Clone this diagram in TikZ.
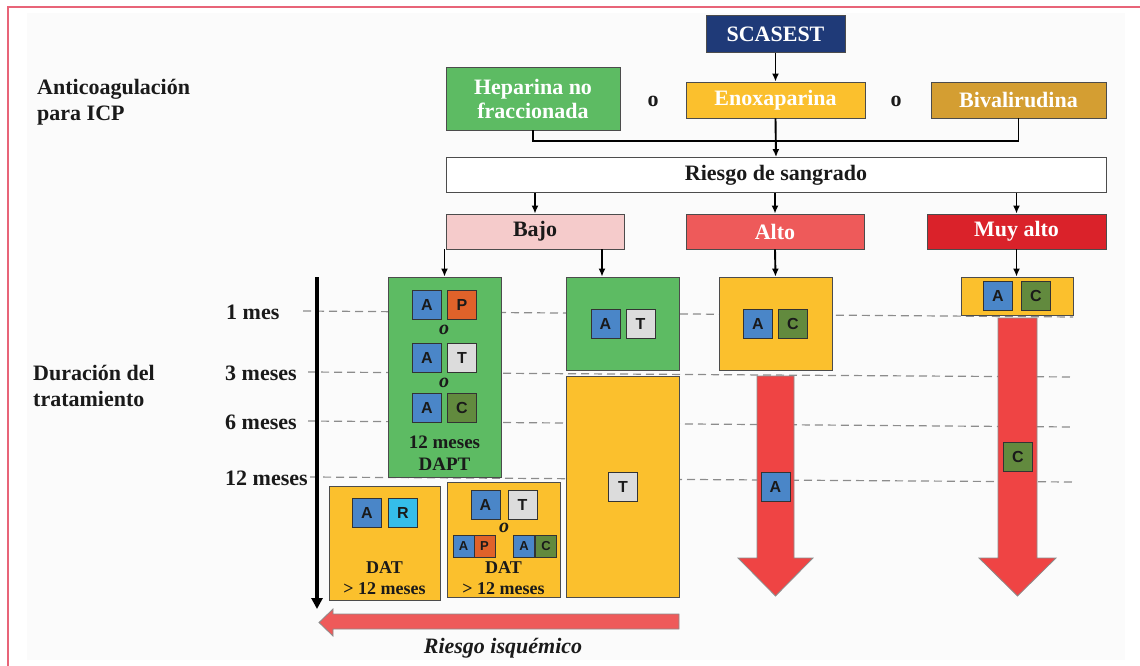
\documentclass[tikz,border=0pt]{standalone}
\usepackage{fontspec}
\setmainfont{Liberation Serif}
\newfontfamily\sqfont{Liberation Sans}
\usetikzlibrary{arrows.meta}
\definecolor{navy}{HTML}{1F3A78}
\definecolor{gbox}{HTML}{5DBB63}
\definecolor{ybox}{HTML}{FBC02D}
\definecolor{gold}{HTML}{D49E32}
\definecolor{pinkb}{HTML}{F5CBCB}
\definecolor{altoc}{HTML}{EE5A5A}
\definecolor{muyc}{HTML}{DA222A}
\definecolor{sqA}{HTML}{4A86C8}
\definecolor{sqP}{HTML}{E0622A}
\definecolor{sqT}{HTML}{DCDCDC}
\definecolor{sqC}{HTML}{628A3E}
\definecolor{sqR}{HTML}{35BDEA}
\definecolor{redarr}{HTML}{EF4444}
\definecolor{frame}{HTML}{E86478}
\definecolor{bgc}{HTML}{FBFBFB}
\definecolor{txt}{HTML}{1A1A1A}
\begin{document}
\begin{tikzpicture}[x=1pt,y=-1pt,
  box/.style={draw=black!70, line width=0.8pt, inner sep=0pt, align=center,
    font=\bfseries\fontsize{22}{24}\selectfont},
  sq/.style={draw=black!80, line width=0.8pt, minimum size=29pt, inner sep=0pt,
    text=txt, font=\sqfont\bfseries\fontsize{16}{16}\selectfont},
  ssq/.style={draw=black!80, line width=0.8pt, minimum width=21pt, minimum height=22pt,
    inner sep=0pt, text=txt, font=\sqfont\bfseries\fontsize{13}{13}\selectfont},
  conn/.style={line width=1.9pt, -{Latex[length=8pt,width=7pt]}},
  dline/.style={draw=black!45, dash pattern=on 8pt off 5pt, line width=1.2pt},
  lbl/.style={font=\bfseries\fontsize{22}{26}\selectfont, align=left, inner sep=0pt, text=txt},
  sep/.style={font=\bfseries\fontsize{22}{24}\selectfont, inner sep=0pt, text=txt},
  ior/.style={font=\bfseries\itshape\fontsize{20}{20}\selectfont, inner sep=0pt, text=txt},
  small/.style={font=\bfseries\fontsize{19}{22}\selectfont, inner sep=0pt, text=txt, align=center},
  redshape/.style={fill=redarr, draw=black!45, line width=0.8pt},
]
\useasboundingbox (0,0) rectangle (1140,666);
\fill[white] (0,0) rectangle (1140,666);
\fill[bgc] (27,13) rectangle (1125,660);
\draw[frame, line width=1.2pt] (8,666) -- (8,7) -- (1140,7);

% left labels
\node[lbl, anchor=north west] (anti) at (37,79) {Anticoagulación\\para ICP};
\node[lbl, anchor=north west] (dur) at (33,365) {Duración del\\tratamiento};

% top flow
\node[box, fill=navy, text=white, minimum width=139pt, minimum height=37pt] (scasest) at (775.5,34) {SCASEST};
\node[box, fill=gbox, text=white, minimum width=174pt, minimum height=63pt] (hep) at (533,98.5) {Heparina no\\fraccionada};
\node[box, fill=ybox, text=white, minimum width=179pt, minimum height=36pt] (enox) at (775.5,100) {Enoxaparina};
\node[box, fill=gold, text=white, minimum width=175pt, minimum height=36pt] (biva) at (1018.5,100) {Bivalirudina};
\node[sep] (o1) at (653,101) {o};
\node[sep] (o2) at (896,101) {o};
\node[box, fill=white, text=txt, minimum width=660pt, minimum height=35pt] (riesgo) at (776,175) {Riesgo de sangrado};
\node[box, fill=pinkb, text=txt, minimum width=178pt, minimum height=35pt] (bajo) at (535,231.5) {Bajo};
\node[box, fill=altoc, text=white, minimum width=178pt, minimum height=35pt] (alto) at (775,231.5) {Alto};
\node[box, fill=muyc, text=white, minimum width=179pt, minimum height=35pt] (muy) at (1016.5,231.5) {Muy alto};

\draw[conn] (scasest.south) -- (enox.north);
\coordinate (join) at (776,141);
\draw[line width=1.9pt] (hep.south) |- (join) -| (biva.south);
\draw[conn] (enox.south) -- (riesgo.north);
\draw[conn] (riesgo.south -| bajo.north) -- (bajo.north);
\draw[conn] (riesgo.south -| alto.north) -- (alto.north);
\draw[conn] (riesgo.south -| muy.north) -- (muy.north);

% dashed time lines
\coordinate (d1a) at (303,311); \coordinate (d1b) at (1073,317);
\coordinate (d3a) at (308,372); \coordinate (d3b) at (1073,377);
\coordinate (d6a) at (308,421); \coordinate (d6b) at (1073,427);
\coordinate (d12a) at (310,477); \coordinate (d12b) at (1073,482);
\draw[dline] (d1a) -- (d1b);
\draw[dline] (d3a) -- (d3b);
\draw[dline] (d6a) -- (d6b);
\draw[dline] (d12a) -- (d12b);

% time axis
\coordinate (axtop) at (317,277);
\coordinate (axend) at (317,609);
\draw[line width=3.5pt, -{Triangle[length=11pt,width=11pt]}] (axtop) -- (axend);
\node[lbl, anchor=west] (m1) at (226,312) {1 mes};
\node[lbl, anchor=west] (m3) at (225,373) {3 meses};
\node[lbl, anchor=west] (m6) at (225,422) {6 meses};
\node[lbl, anchor=west] (m12) at (225,478) {12 meses};

% Bajo column boxes
\node[box, fill=gbox, minimum width=113pt, minimum height=200pt] (dapt) at (444.5,377) {};
\node[box, fill=gbox, minimum width=113pt, minimum height=93pt] (atbox) at (622.5,323.5) {};
\node[box, fill=ybox, minimum width=113pt, minimum height=221pt] (tbox) at (622.5,486.5) {};
\node[box, fill=ybox, minimum width=111pt, minimum height=114pt] (dat1) at (384.5,543) {};
\node[box, fill=ybox, minimum width=113pt, minimum height=115pt] (dat2) at (503.5,539.5) {};

\draw[conn] (bajo.south -| dapt.north) -- (dapt.north);
\coordinate (bj2) at (602,249);
\draw[conn] (bj2) -- (bj2 |- atbox.north);

% DAPT contents
\node[sq, fill=sqA] (d1A) at (427,304.5) {A};
\node[sq, fill=sqP] (d1P) at (462,304.5) {P};
\node[ior] (do1) at (444,330) {o};
\node[sq, fill=sqA] (d2A) at (427,358) {A};
\node[sq, fill=sqT] (d2T) at (462,358) {T};
\node[ior] (do2) at (444,383) {o};
\node[sq, fill=sqA] (d3A) at (427,408) {A};
\node[sq, fill=sqC] (d3C) at (462,408) {C};
\node[small] (dm) at (444.5,442) {12 meses};
\node[small] (dd) at (444.5,464) {DAPT};

% A T box
\node[sq, fill=sqA] (aA) at (605.5,323.5) {A};
\node[sq, fill=sqT] (aT) at (640.5,323.5) {T};
% T box
\node[sq, fill=sqT] (tT) at (623,487) {T};

% DAT 1
\node[sq, fill=sqA] (e1A) at (367,512.5) {A};
\node[sq, fill=sqR] (e1R) at (403,512.5) {R};
\node[small, font=\bfseries\fontsize{18}{22}\selectfont] (e1t) at (384.5,568) {DAT};
\node[small, font=\bfseries\fontsize{18}{22}\selectfont] (e1m) at (384.5,589) {> 12 meses};

% DAT 2
\node[sq, fill=sqA] (f1A) at (485.5,505) {A};
\node[sq, fill=sqT] (f1T) at (522.5,505) {T};
\node[ior] (fo) at (504,528) {o};
\node[ssq, fill=sqA] (f2A) at (463.5,546) {A};
\node[ssq, fill=sqP] (f2P) at (484.5,546) {P};
\node[ssq, fill=sqA] (f3A) at (524,546) {A};
\node[ssq, fill=sqC] (f3C) at (546,546) {C};
\node[small, font=\bfseries\fontsize{18}{22}\selectfont] (f2t) at (503.5,568) {DAT};
\node[small, font=\bfseries\fontsize{18}{22}\selectfont] (f2m) at (503.5,589) {> 12 meses};

% Alto column
\node[box, fill=ybox, minimum width=113pt, minimum height=93pt] (altobox) at (775.5,323.5) {};
\draw[conn] (alto.south) -- (altobox.north);
\node[sq, fill=sqA] (gA) at (758,323.5) {A};
\node[sq, fill=sqC] (gC) at (793,323.5) {C};
\draw[redshape] (757,376) -- (794,376) -- (794,558) -- (813,558) -- (775.5,596) -- (738,558) -- (757,558) -- cycle;
\node[sq, fill=sqA] (hA) at (775.5,486.5) {A};

% Muy alto column
\node[box, fill=ybox, minimum width=112pt, minimum height=38pt] (muybox) at (1017,296) {};
\draw[conn] (muy.south) -- (muy.south |- muybox.north);
\node[sq, fill=sqA] (iA) at (998,296) {A};
\node[sq, fill=sqC] (iC) at (1036,296) {C};
\draw[redshape] (998,318) -- (1037,318) -- (1037,558) -- (1056,558) -- (1017.5,596) -- (979,558) -- (998,558) -- cycle;
\node[sq, fill=sqC] (jC) at (1018,457) {C};

% ischemic risk arrow
\draw[fill=altoc, draw=black!45, line width=0.8pt] (679,614) -- (333,614) -- (333,609) -- (319,622.5) -- (333,636) -- (333,629) -- (679,629) -- cycle;
\node[font=\bfseries\itshape\fontsize{22}{24}\selectfont, text=txt, inner sep=0pt] (isq) at (503,648) {Riesgo isquémico};
\end{tikzpicture}
\end{document}
